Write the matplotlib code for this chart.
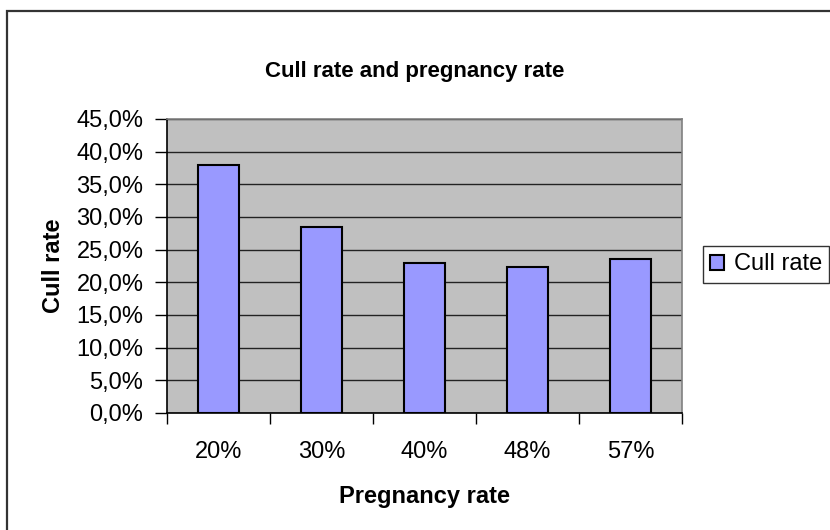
import matplotlib.pyplot as plt
from matplotlib.patches import Rectangle

# data
categories = ['20%', '30%', '40%', '48%', '57%']
cull_rate = [38.0, 28.5, 23.0, 22.4, 23.6]
y_ticks = [0, 5, 10, 15, 20, 25, 30, 35, 40, 45]
y_tick_labels = ['%.1f%%' % v for v in y_ticks]
y_tick_labels = [s.replace('.', ',') for s in y_tick_labels]

plt.rcParams['font.family'] = ['Liberation Sans', 'DejaVu Sans']

W, H = 830, 530
fig = plt.figure(figsize=(W / 100, H / 100), dpi=100)

# outer chart border (right and bottom fall outside the picture)
fig.patches.append(Rectangle((7 / W, -0.1), 2.0, 1 - 11 / H + 0.1,
                             transform=fig.transFigure, fill=False,
                             edgecolor='#333333', linewidth=1.6))

ax = fig.add_axes([167 / W, 1 - 413 / H, (682 - 167) / W, (413 - 119) / H])
ax.set_facecolor('#C0C0C0')

x = range(len(categories))
ax.bar(x, cull_rate, width=0.39, color='#9999FF', edgecolor='black',
       linewidth=1.5, zorder=3, label='Cull rate')

ax.set_xlim(-0.5, len(categories) - 0.5)
ax.set_ylim(0, 45)
ax.set_yticks(y_ticks)
ax.set_yticklabels(y_tick_labels)
ax.set_xticks(list(x))
ax.set_xticklabels(categories)
ax.set_xticks([i - 0.5 for i in range(len(categories) + 1)], minor=True)

ax.yaxis.grid(True, color='#222222', linewidth=1.0, zorder=1)
ax.set_axisbelow(True)

ax.tick_params(axis='y', direction='out', length=9, width=1, pad=8,
               labelsize=17, colors='black')
ax.tick_params(axis='x', which='major', length=0, pad=20, labelsize=17)
ax.tick_params(axis='x', which='minor', direction='out', length=8, width=1)

for side in ['left', 'bottom']:
    ax.spines[side].set_color('black')
    ax.spines[side].set_linewidth(1.2)
for side in ['top', 'right']:
    ax.spines[side].set_color('#808080')
    ax.spines[side].set_linewidth(1.2)

ax.set_xlabel('Pregnancy rate', fontsize=17, fontweight='bold', labelpad=16)
ax.set_ylabel('Cull rate', fontsize=17, fontweight='bold', labelpad=8)
fig.text(415 / W, 1 - 71 / H, 'Cull rate and pregnancy rate', fontsize=16,
         fontweight='bold', ha='center', va='center')

leg = ax.legend(loc='center left', bbox_to_anchor=(703 / W, 1 - 264.5 / H),
                bbox_transform=fig.transFigure, fontsize=17, frameon=True,
                fancybox=False, edgecolor='black', handlelength=0.6,
                handleheight=0.6, handletextpad=0.4, borderpad=0.3,
                borderaxespad=0)
leg.get_frame().set_linewidth(1.0)

fig.savefig('out.png', dpi=100)
